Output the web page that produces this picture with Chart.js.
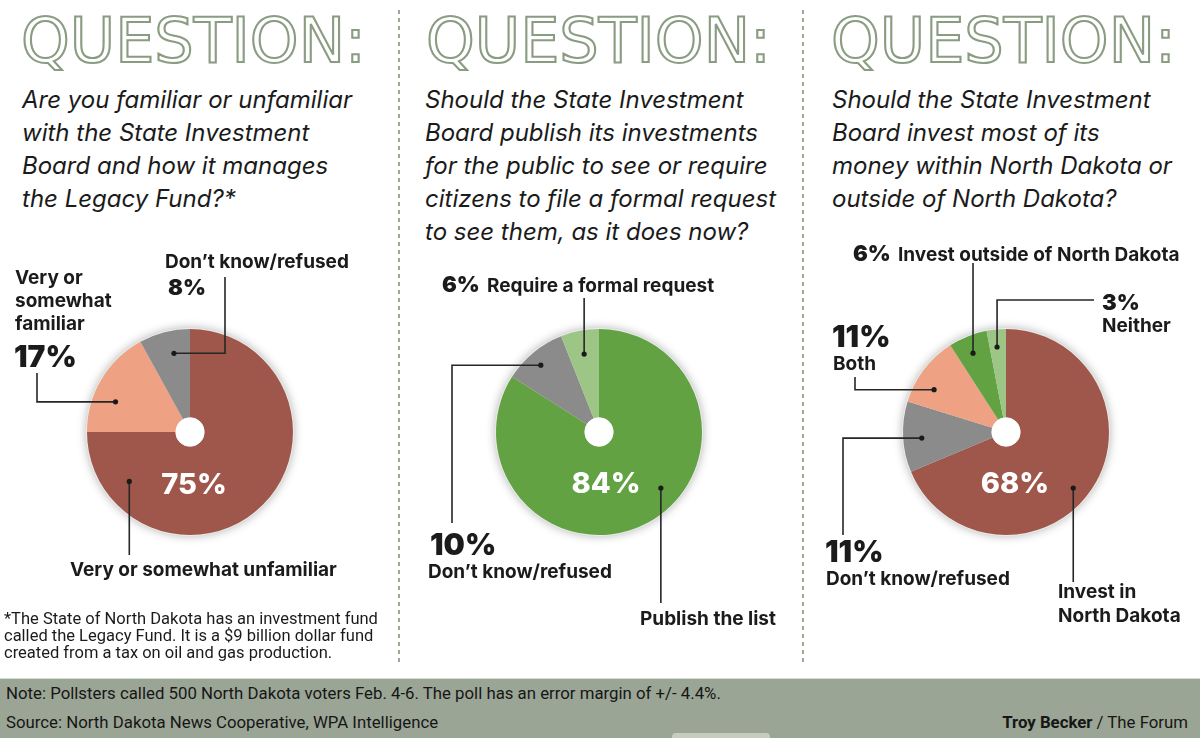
<!DOCTYPE html>
<html>
<head>
<meta charset="utf-8">
<script src="https://cdn.jsdelivr.net/npm/chart.js@4.4.1/dist/chart.umd.min.js"></script>
<style>
  body { margin: 0; width: 1200px; height: 738px; overflow: hidden; background: #fff; position: relative;
         font-family: Inter, "Liberation Sans", sans-serif; color: #1b1b1b; }
  .title { position: absolute; top: 10px; font-family: "DejaVu Sans"; font-size: 62px; line-height: 1;
           color: #fff; -webkit-text-stroke: 2.1px #8a9c82; white-space: nowrap; }
  .q { position: absolute; top: 83px; font-style: italic; font-size: 24px; line-height: 33px; white-space: nowrap; }
  .lbl { position: absolute; font-weight: 700; font-size: 19px; line-height: 23px; white-space: nowrap; }
  .p22 { position: absolute; font-weight: 900; font-size: 22px; line-height: 26px; }
  .p27 { position: absolute; font-weight: 900; font-size: 30px; line-height: 30px; }
  .inner { position: absolute; width: 100px; text-align: center; color: #fff; font-weight: 800; font-size: 29px; line-height: 29px; }
  .divider { position: absolute; top: 10px; width: 2px; height: 652px;
             background: repeating-linear-gradient(to bottom, #9aab90 0 4px, transparent 4px 8px); }
  .note { position: absolute; left: 4px; top: 610px; font-family: Roboto, sans-serif; font-size: 16.5px; line-height: 17px; white-space: nowrap; }
  #footer { position: absolute; left: 0; top: 678px; width: 1200px; height: 60px; background: #9ba595;
            border-top: 1px solid #d6dbd3; font-family: Roboto, sans-serif; font-size: 16.8px; color: #161616; }
  #footer div { position: absolute; white-space: nowrap; }
  #tab { position: absolute; left: 672px; top: 733px; width: 98px; height: 8px; background: #c5ccc0; border-radius: 4px 4px 0 0; }
  canvas { position: absolute; top: 230px; }
</style>
</head>
<body>

<div class="title" style="left:21px">QUESTION:</div>
<div class="title" style="left:426px">QUESTION:</div>
<div class="title" style="left:831px">QUESTION:</div>

<div class="divider" style="left:398px"></div>
<div class="divider" style="left:802px"></div>

<div class="q" style="left:22px">Are you familiar or unfamiliar<br>with the State Investment<br>Board and how it manages<br>the Legacy Fund?*</div>
<div class="q" style="left:425px">Should the State Investment<br>Board publish its investments<br>for the public to see or require<br>citizens to file a formal request<br>to see them, as it does now?</div>
<div class="q" style="left:832px">Should the State Investment<br>Board invest most of its<br>money within North Dakota or<br>outside of North Dakota?</div>

<canvas id="pie1" width="398" height="430" style="left:0;width:398px;height:430px"></canvas>
<canvas id="pie2" width="398" height="430" style="left:402px;width:398px;height:430px"></canvas>
<canvas id="pie3" width="395" height="430" style="left:805px;width:395px;height:430px"></canvas>

<!-- question 1 labels -->
<div class="lbl" style="left:165px;top:250px">Don’t know/refused</div>
<div class="p22" style="left:168px;top:274px">8%</div>
<div class="lbl" style="left:15px;top:266px">Very or<br>somewhat<br>familiar</div>
<div class="p27" style="left:14px;top:341px">17%</div>
<div class="lbl" style="left:70px;top:558px">Very or somewhat unfamiliar</div>
<div class="inner" style="left:144px;top:469px">75%</div>

<!-- question 2 labels -->
<div class="p22" style="left:442px;top:271px">6%</div>
<div class="lbl" style="left:487px;top:274px">Require a formal request</div>
<div class="p27" style="left:430px;top:529px">10%</div>
<div class="lbl" style="left:428px;top:560px">Don’t know/refused</div>
<div class="lbl" style="left:640px;top:607px">Publish the list</div>
<div class="inner" style="left:556px;top:468px">84%</div>

<!-- question 3 labels -->
<div class="p22" style="left:853px;top:240px">6%</div>
<div class="lbl" style="left:898px;top:243px">Invest outside of North Dakota</div>
<div class="p22" style="left:1102px;top:289px">3%</div>
<div class="lbl" style="left:1102px;top:314px">Neither</div>
<div class="p27" style="left:832px;top:321px">11%</div>
<div class="lbl" style="left:833px;top:352px">Both</div>
<div class="p27" style="left:825px;top:536px">11%</div>
<div class="lbl" style="left:826px;top:567px">Don’t know/refused</div>
<div class="lbl" style="left:1058px;top:580px;line-height:24px">Invest in<br>North Dakota</div>
<div class="inner" style="left:965px;top:468px">68%</div>

<div class="note">*The State of North Dakota has an investment fund<br>called the Legacy Fund. It is a $9 billion dollar fund<br>created from a tax on oil and gas production.</div>

<div id="footer">
  <div style="left:6px;top:4px">Note: Pollsters called 500 North Dakota voters Feb. 4-6. The poll has an error margin of +/- 4.4%.</div>
  <div style="left:6px;top:33px">Source: North Dakota News Cooperative, WPA Intelligence</div>
  <div style="right:12px;top:33px"><b>Troy Becker</b> / The Forum</div>
</div>
<div id="tab"></div>

<script>
// ── data ──
const Q1_LABELS = ["Very or somewhat unfamiliar", "Very or somewhat familiar", "Don’t know/refused"];
const Q1_VALUES = [75, 17, 8];
const Q2_LABELS = ["Publish the list", "Don’t know/refused", "Require a formal request"];
const Q2_VALUES = [84, 10, 6];
const Q3_LABELS = ["Invest in North Dakota", "Don’t know/refused", "Both", "Invest outside of North Dakota", "Neither"];
const Q3_VALUES = [68, 11, 11, 6, 3];

const RED = "#a0574b", SALMON = "#eea283", GREY = "#8b8b8b", GREEN = "#62a243", LIGHT_GREEN = "#9dc585";

// leader lines: slice index, position inside slice (t along the arc, r of radius),
// then the path out: "v" vertical, "hv" horizontal then vertical, "vh" vertical then horizontal
const Q1_LEADERS = [
  { i: 1, t: 0.36, r: 0.78, path: "hv", x: -153, y: -59 },
  { i: 2, t: 0.6,  r: 0.78, path: "hv", x: 35,   y: -155 },
  { i: 0, t: 0.855, r: 0.76, path: "v", y: 123 },
];
const Q2_LEADERS = [
  { i: 2, t: 0.5,  r: 0.77, path: "v", y: -134 },
  { i: 1, t: 0.46, r: 0.86, path: "hv", x: -147, y: 91 },
  { i: 0, t: 0.437, r: 0.81, path: "v", y: 171 },
];
const Q3_LEADERS = [
  { i: 4, t: 0.45, r: 0.83, path: "vh", x: 88, y: -132 },
  { i: 3, t: 0.46, r: 0.83, path: "v", y: -169 },
  { i: 2, t: 0.33, r: 0.81, path: "hv", x: -151, y: -55 },
  { i: 1, t: 0.465, r: 0.82, path: "hv", x: -163, y: 103 },
  { i: 0, t: 0.525, r: 0.85, path: "v", y: 150 },
];

// ── soft halo behind each pie, white hole in the middle ──
const halo = {
  id: "halo",
  beforeDatasetsDraw(chart) {
    const arc = chart.getDatasetMeta(0).data[0];
    if (!arc) return;
    const ctx = chart.ctx;
    ctx.save();
    ctx.shadowColor = "rgba(0,0,0,0.30)";
    ctx.shadowBlur = 10;
    ctx.fillStyle = "#e9ecea";
    ctx.beginPath();
    ctx.arc(arc.x, arc.y, arc.outerRadius + 1, 0, Math.PI * 2);
    ctx.fill();
    ctx.restore();
  },
  afterDatasetsDraw(chart) {
    const arc = chart.getDatasetMeta(0).data[0];
    if (!arc) return;
    const ctx = chart.ctx;
    ctx.save();
    ctx.fillStyle = "#fff";
    ctx.beginPath();
    ctx.arc(arc.x, arc.y, arc.innerRadius, 0, Math.PI * 2);
    ctx.fill();
    ctx.restore();
  }
};

// ── leader lines with a dot inside the slice ──
const leaders = {
  id: "leaders",
  afterDatasetsDraw(chart, args, opts) {
    const arcs = chart.getDatasetMeta(0).data;
    const ctx = chart.ctx;
    ctx.save();
    ctx.strokeStyle = "#262626";
    ctx.fillStyle = "#1a1a1a";
    ctx.lineWidth = 1.6;
    for (const L of opts.list || []) {
      const a = arcs[L.i];
      const ang = a.startAngle + L.t * (a.endAngle - a.startAngle);
      const px = a.x + Math.cos(ang) * a.outerRadius * L.r;
      const py = a.y + Math.sin(ang) * a.outerRadius * L.r;
      ctx.beginPath();
      ctx.moveTo(px, py);
      if (L.path === "v") ctx.lineTo(px, a.y + L.y);
      if (L.path === "hv") { ctx.lineTo(a.x + L.x, py); ctx.lineTo(a.x + L.x, a.y + L.y); }
      if (L.path === "vh") { ctx.lineTo(px, a.y + L.y); ctx.lineTo(a.x + L.x, a.y + L.y); }
      ctx.stroke();
      ctx.beginPath();
      ctx.arc(px, py, 2.6, 0, Math.PI * 2);
      ctx.fill();
    }
    ctx.restore();
  }
};

function makePie(id, labels, values, colors, list, cx, cy, R) {
  const canvas = document.getElementById(id);
  const w = canvas.width, h = canvas.height;
  return new Chart(canvas, {
    type: "pie",
    data: { labels, datasets: [{ data: values, backgroundColor: colors, borderWidth: 0, hoverOffset: 0 }] },
    plugins: [halo, leaders],
    options: {
      responsive: false, animation: false, cutout: "14%",
      layout: { padding: { left: cx - R, top: cy - R, right: w - cx - R, bottom: h - cy - R } },
      plugins: { legend: { display: false }, tooltip: { enabled: false }, leaders: { list } }
    }
  });
}

makePie("pie1", Q1_LABELS, Q1_VALUES, [RED, SALMON, GREY], Q1_LEADERS, 190, 202, 103);
makePie("pie2", Q2_LABELS, Q2_VALUES, [GREEN, GREY, LIGHT_GREEN], Q2_LEADERS, 197, 202, 103);
makePie("pie3", Q3_LABELS, Q3_VALUES, [RED, GREY, SALMON, GREEN, LIGHT_GREEN], Q3_LEADERS, 201, 202, 103);
</script>
</body>
</html>
